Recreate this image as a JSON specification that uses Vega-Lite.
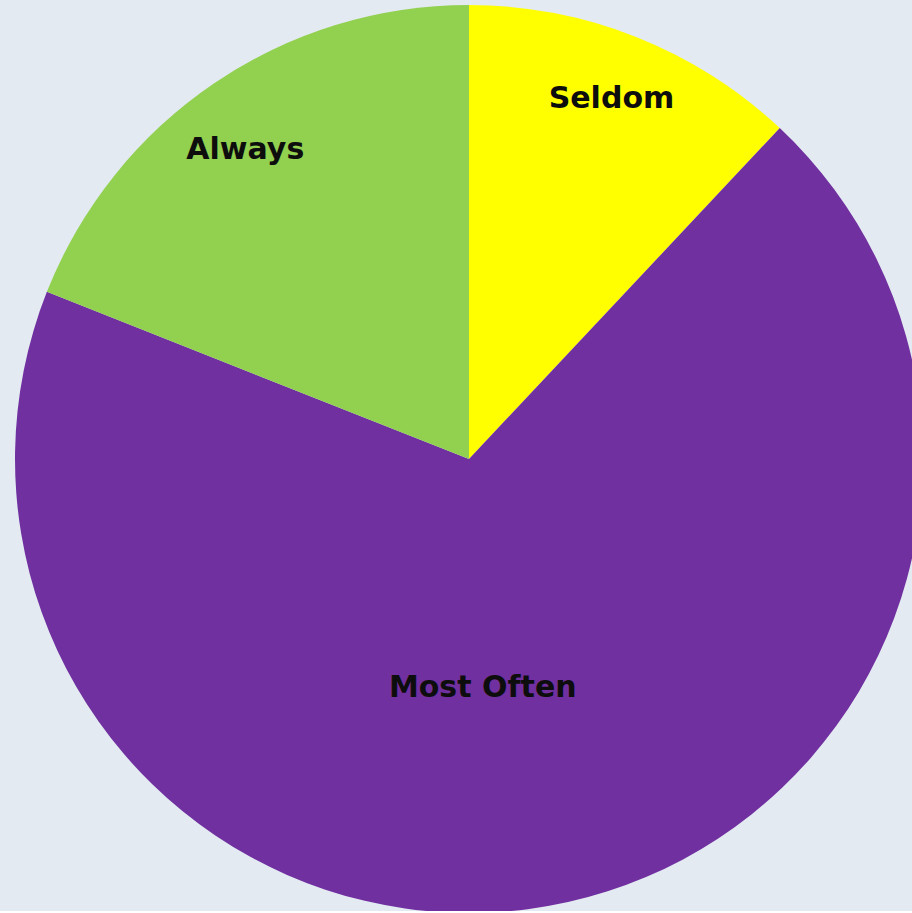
{
  "$schema": "https://vega.github.io/schema/vega-lite/v6.json",
  "autosize": {"type": "none"},
  "width": 888,
  "height": 904,
  "padding": {"left": 25, "top": 7, "right": 0, "bottom": 0},
  "background": "#e3eaf2",
  "view": {"stroke": null},
  "data": {
    "values": [
      {"category": "Seldom", "value": 12},
      {"category": "Most Often", "value": 69},
      {"category": "Always", "value": 19}
    ]
  },
  "encoding": {
    "theta": {"field": "value", "type": "quantitative", "stack": true},
    "color": {
      "field": "category",
      "type": "nominal",
      "sort": ["Seldom", "Most Often", "Always"],
      "scale": {"domain": ["Seldom", "Most Often", "Always"], "range": ["#ffff00", "#7030a0", "#92d050"]},
      "legend": null
    },
    "order": {"field": "category", "sort": "descending"}
  },
  "layer": [
    {"mark": {"type": "arc", "outerRadius": 454, "stroke": null}},
    {
      "mark": {"type": "text", "radius": 387, "font": "DejaVu Sans", "fontWeight": "bold", "fontSize": 30, "align": "center", "baseline": "middle"},
      "encoding": {
        "text": {"field": "category"},
        "color": {"value": "#0d0d0d"},
        "opacity": {"condition": {"test": "datum.category === 'Seldom'", "value": 1}, "value": 0}
      }
    },
    {
      "mark": {"type": "text", "radius": 382, "dx": -9, "dy": 7, "font": "DejaVu Sans", "fontWeight": "bold", "fontSize": 30, "align": "center", "baseline": "middle"},
      "encoding": {
        "text": {"field": "category"},
        "color": {"value": "#0d0d0d"},
        "opacity": {"condition": {"test": "datum.category === 'Always'", "value": 1}, "value": 0}
      }
    },
    {
      "mark": {"type": "text", "radius": 228, "dx": -36, "dy": 6, "font": "DejaVu Sans", "fontWeight": "bold", "fontSize": 30, "align": "center", "baseline": "middle"},
      "encoding": {
        "text": {"field": "category"},
        "color": {"value": "#0d0d0d"},
        "opacity": {"condition": {"test": "datum.category === 'Most Often'", "value": 1}, "value": 0}
      }
    }
  ]
}
